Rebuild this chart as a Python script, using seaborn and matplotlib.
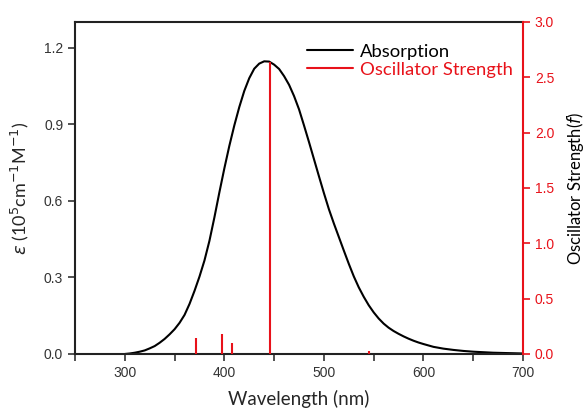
import matplotlib
matplotlib.use("Agg")
import matplotlib.pyplot as plt
from matplotlib.lines import Line2D
from matplotlib.ticker import MultipleLocator
import seaborn as sns
import pandas as pd

# Absorption spectrum
wavelength = [300, 305, 310, 315, 320, 325, 330, 335, 340, 345, 350, 355, 360,
              365, 370, 375, 380, 385, 390, 395, 400, 405, 410, 415, 420, 425,
              430, 435, 440, 445, 450, 455, 460, 465, 470, 475, 480, 485, 490,
              495, 500, 505, 510, 515, 520, 525, 530, 535, 540, 545, 550, 555,
              560, 565, 570, 575, 580, 585, 590, 595, 600, 610, 620, 630, 640,
              650, 660, 670, 680, 690, 700]
epsilon = [0.000, 0.002, 0.005, 0.009, 0.014, 0.022, 0.031, 0.044, 0.059, 0.077,
           0.097, 0.122, 0.153, 0.196, 0.247, 0.303, 0.366, 0.443, 0.535, 0.633,
           0.727, 0.815, 0.895, 0.967, 1.030, 1.080, 1.117, 1.137, 1.146, 1.145,
           1.133, 1.116, 1.088, 1.054, 1.010, 0.958, 0.895, 0.830, 0.763, 0.696,
           0.630, 0.567, 0.511, 0.458, 0.405, 0.353, 0.304, 0.261, 0.224, 0.191,
           0.163, 0.139, 0.119, 0.103, 0.090, 0.079, 0.069, 0.060, 0.052, 0.045,
           0.039, 0.028, 0.021, 0.016, 0.012, 0.009, 0.007, 0.005, 0.004, 0.003,
           0.002]

# Oscillator strengths
osc_wavelength = [372, 398, 408, 446, 545]
osc_strength = [0.147, 0.178, 0.097, 2.64, 0.03]

x_ticks = [300, 400, 500, 600, 700]
y_ticks = [0.0, 0.3, 0.6, 0.9, 1.2]
y2_ticks = [0.0, 0.5, 1.0, 1.5, 2.0, 2.5, 3.0]

sns.set_style("ticks")
plt.rcParams['font.family'] = ['Liberation Sans', 'DejaVu Sans']

RED = '#e8121a'
df = pd.DataFrame({'Wavelength': wavelength, 'eps': epsilon})

fig = plt.figure(figsize=(5.88, 4.15), dpi=100)
ax = fig.add_axes([0.1276, 0.147, 0.7619, 0.800])
sns.lineplot(data=df, x='Wavelength', y='eps', ax=ax, color='black', lw=1.5)
ax.set_xlim(250, 700)
ax.set_ylim(0, 1.3)
ax.set_xticks(x_ticks)
ax.set_xticklabels([str(v) for v in x_ticks])
ax.xaxis.set_minor_locator(MultipleLocator(50))
ax.set_yticks(y_ticks)
ax.set_yticklabels([f"{v:.1f}" for v in y_ticks])
ax.tick_params(axis='both', which='both', direction='out', labelsize=10,
               colors='#333333', width=1.2)
ax.tick_params(axis='both', which='major', length=5)
ax.tick_params(axis='x', which='minor', length=5)
for s in ['left', 'bottom', 'top']:
    ax.spines[s].set_linewidth(1.5)
    ax.spines[s].set_color('#222222')
ax.spines['right'].set_visible(False)

ax.set_xlabel('Wavelength (nm)', fontsize=13.5, family=['Lato', 'DejaVu Sans'],
              labelpad=7)
ax.set_ylabel(r'$\it{\varepsilon}$ (10$^{5}$cm$^{-1}$M$^{-1}$)', fontsize=13,
              family=['Lato', 'DejaVu Sans'], labelpad=9)

ax2 = ax.twinx()
ax2.vlines(osc_wavelength, 0, osc_strength, color=RED, lw=1.5)
ax2.set_ylim(0, 3.0)
ax2.set_yticks(y2_ticks)
ax2.set_yticklabels([f"{v:.1f}" for v in y2_ticks])
ax2.tick_params(axis='y', direction='out', length=5, width=1.2, colors=RED,
                labelsize=10)
ax2.spines['right'].set_color(RED)
ax2.spines['right'].set_linewidth(1.5)
for s in ['left', 'bottom', 'top']:
    ax2.spines[s].set_visible(False)
ax2.set_ylabel(r'Oscillator Strength($\it{f}$)', fontsize=12,
               family=['Lato', 'DejaVu Sans'], labelpad=8, color='black')

handles = [Line2D([], [], color='black', lw=1.5),
           Line2D([], [], color=RED, lw=1.5)]
leg = ax.legend(handles, ['Absorption', 'Oscillator Strength'], loc='upper right',
                bbox_to_anchor=(1.015, 0.985), frameon=False, handlelength=2.5,
                handletextpad=0.4, labelspacing=0.12,
                prop={'family': ['Lato', 'DejaVu Sans'], 'size': 13.3})
leg.get_texts()[0].set_color('black')
leg.get_texts()[1].set_color(RED)

fig.savefig('out.png', dpi=100)
